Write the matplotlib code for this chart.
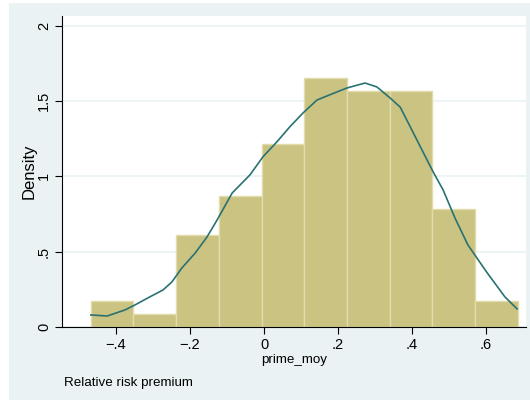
import matplotlib
matplotlib.use("Agg")
import matplotlib.pyplot as plt
from matplotlib.patches import Rectangle

plt.rcParams['font.family'] = ['Liberation Sans', 'DejaVu Sans']

# histogram of prime_moy (10 bins), density scale
bin_edges = [-0.468, -0.353, -0.237, -0.122, -0.006, 0.109, 0.224, 0.340, 0.455, 0.571, 0.686]
bin_density = [0.174, 0.087, 0.608, 0.869, 1.216, 1.651, 1.564, 1.564, 0.782, 0.174]

# kernel density curve
kde_x = [-0.468, -0.424, -0.376, -0.349, -0.314, -0.273, -0.249, -0.222, -0.186,
         -0.154, -0.127, -0.086, -0.038, -0.003, 0.035, 0.070, 0.105, 0.143,
         0.183, 0.224, 0.273, 0.305, 0.341, 0.368, 0.395, 0.427, 0.457, 0.484,
         0.516, 0.551, 0.603, 0.651, 0.684]
kde_y = [0.08, 0.073, 0.113, 0.146, 0.193, 0.246, 0.299, 0.392, 0.491,
         0.598, 0.71, 0.89, 1.01, 1.13, 1.23, 1.33, 1.42, 1.507,
         1.547, 1.587, 1.62, 1.594, 1.52, 1.46, 1.33, 1.175, 1.03, 0.91,
         0.724, 0.545, 0.36, 0.2, 0.12]

xticks = [-0.4, -0.2, 0, 0.2, 0.4, 0.6]
xtick_labels = ['\u2212.4', '\u2212.2', '0', '.2', '.4', '.6']
yticks = [0, 0.5, 1, 1.5, 2]
ytick_labels = ['0', '.5', '1', '1.5', '2']

bg = '#eaf2f3'
fig = plt.figure(figsize=(5.30, 4.01), dpi=100)
fig.patch.set_facecolor('white')
fig.patches.append(Rectangle((9 / 530, 1 / 401), 1 - 9 / 530, 397 / 401,
                             transform=fig.transFigure, facecolor=bg,
                             edgecolor='none', zorder=-10))

ax = fig.add_axes([62 / 530, 74 / 401, 464 / 530, 311 / 401])
ax.set_facecolor('white')

widths = [bin_edges[i + 1] - bin_edges[i] for i in range(len(bin_density))]
ax.bar(bin_edges[:-1], bin_density, width=widths, align='edge',
       color='#cbc382', edgecolor='#e2dcab', linewidth=1, zorder=2)
ax.plot(kde_x, kde_y, color='#2a7272', linewidth=1.2, zorder=3)

ax.set_xlim(-0.546, 0.708)
ax.set_ylim(0, 2.065)
ax.set_yticks(yticks)
ax.set_yticklabels(ytick_labels, rotation=90, va='center')
ax.set_xticks(xticks)
ax.set_xticklabels(xtick_labels)
ax.yaxis.grid(True, color=bg, linewidth=1.2, zorder=1)
ax.set_axisbelow(True)

for s in ['top', 'right']:
    ax.spines[s].set_visible(False)
for s in ['left', 'bottom']:
    ax.spines[s].set_color('black')
    ax.spines[s].set_linewidth(0.8)
ax.tick_params(axis='both', length=5, width=0.8, labelsize=10.5, pad=3)

ax.set_ylabel('Density', fontsize=12, labelpad=0)
ax.set_xlabel('prime_moy', fontsize=9.6, labelpad=1)
fig.text(64 / 530, 1 - 383 / 401, 'Relative risk premium', fontsize=9.6,
         va='center', ha='left')

fig.savefig('out.png', dpi=100)
